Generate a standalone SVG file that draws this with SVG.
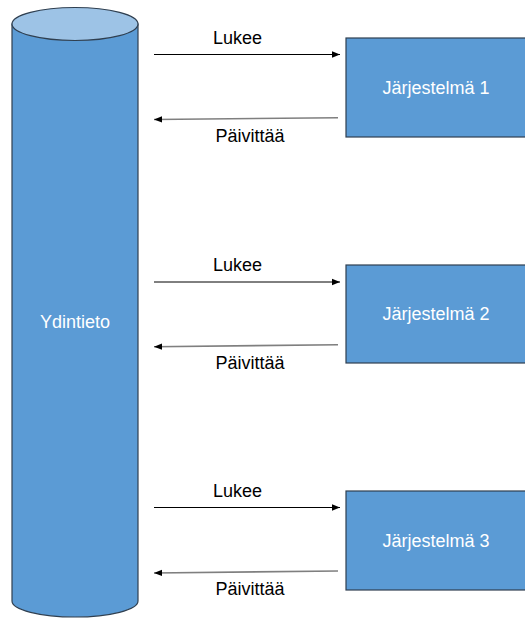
<svg xmlns="http://www.w3.org/2000/svg" width="525" height="618" viewBox="0 0 525 618">
  <defs>
    <style>
      .shape { fill: #5B9BD5; stroke: #2F3F50; stroke-width: 1.2; }
      .cap { fill: #9DC3E6; stroke: #2F3F50; stroke-width: 1.2; }
      .label-in { font-family: "Liberation Sans", Arial, sans-serif; font-size: 18px; fill: #FFFFFF; text-anchor: middle; }
      .label { font-family: "Liberation Sans", Arial, sans-serif; font-size: 18px; fill: #000000; text-anchor: middle; }
      .read { stroke: #000000; stroke-width: 1; fill: none; marker-end: url(#head); }
      .write { stroke: #7F7F7F; stroke-width: 1.6; fill: none; marker-end: url(#head); }
    </style>
    <marker id="head" viewBox="0 0 8 8" refX="8" refY="4" markerWidth="8" markerHeight="8" markerUnits="userSpaceOnUse" orient="auto">
      <path d="M0,0.8 L8,4 L0,7.2 Z" fill="#000000"/>
    </marker>
  </defs>

  <!-- Master data store (cylinder) -->
  <g id="ydintieto">
    <path class="shape" d="M12,24 L12,601 A63,16 0 0 0 138,601 L138,24 Z"/>
    <ellipse class="cap" cx="75" cy="24" rx="63" ry="16.5"/>
    <text class="label-in" x="75" y="328">Ydintieto</text>
  </g>

  <!-- Systems -->
  <g id="jarjestelma1">
    <rect class="shape" x="346" y="38" width="182" height="99"/>
    <text class="label-in" x="436" y="94">Järjestelmä 1</text>
  </g>
  <g id="jarjestelma2">
    <rect class="shape" x="346" y="265" width="182" height="98"/>
    <text class="label-in" x="436" y="320">Järjestelmä 2</text>
  </g>
  <g id="jarjestelma3">
    <rect class="shape" x="346" y="491" width="182" height="99"/>
    <text class="label-in" x="436" y="547">Järjestelmä 3</text>
  </g>

  <!-- Connectors -->
  <g id="connectors">
    <line class="read" x1="154" y1="54.5" x2="340" y2="54.5"/>
    <line class="write" x1="338" y1="117.7" x2="154" y2="119.5"/>
    <line class="read" x1="154" y1="282" x2="340" y2="282"/>
    <line class="write" x1="338" y1="344.7" x2="154" y2="346.7"/>
    <line class="read" x1="154" y1="507.5" x2="340" y2="507.5"/>
    <line class="write" x1="338" y1="571" x2="154" y2="573"/>
  </g>

  <!-- Connector labels -->
  <g id="labels">
    <text class="label" x="237.5" y="44">Lukee</text>
    <text class="label" x="250" y="142">Päivittää</text>
    <text class="label" x="237.5" y="271">Lukee</text>
    <text class="label" x="250" y="369">Päivittää</text>
    <text class="label" x="237.5" y="497">Lukee</text>
    <text class="label" x="250" y="595">Päivittää</text>
  </g>
</svg>
